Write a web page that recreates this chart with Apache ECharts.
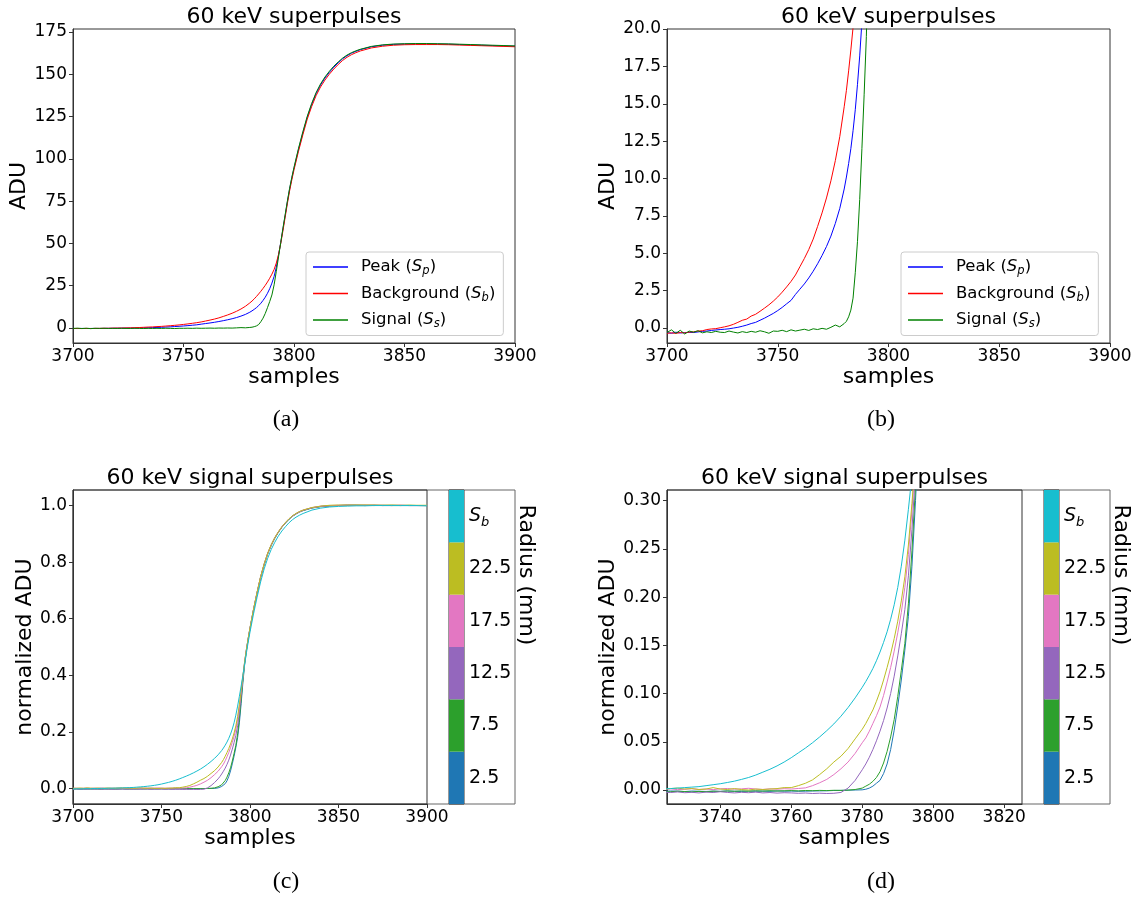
<!DOCTYPE html>
<html>
<head>
<meta charset="utf-8">
<title>60 keV superpulses</title>
<script src="https://cdn.jsdelivr.net/npm/echarts@6/dist/echarts.min.js"></script>
<style>
  html, body { margin: 0; padding: 0; background: #fff; }
  #main { width: 1139px; height: 900px; }
</style>
</head>
<body>
<div id="main"></div>
<script>
// sample index shared by all four panels
var samples = [
  3700, 3702, 3704, 3706, 3708, 3710, 3712, 3714, 3716, 3718,
  3720, 3722, 3724, 3726, 3728, 3730, 3732, 3734, 3736, 3738,
  3740, 3742, 3744, 3746, 3748, 3750, 3752, 3754, 3756, 3758,
  3760, 3762, 3764, 3766, 3768, 3770, 3772, 3774, 3776, 3778,
  3780, 3781, 3782, 3783, 3784, 3785, 3786, 3787, 3788, 3789,
  3790, 3791, 3792, 3793, 3794, 3795, 3796, 3797, 3798, 3799,
  3800, 3802, 3804, 3806, 3808, 3810, 3812, 3814, 3816, 3818,
  3820, 3822, 3824, 3826, 3828, 3830, 3835, 3840, 3845, 3850,
  3855, 3860, 3865, 3870, 3875, 3880, 3885, 3890, 3895, 3900
];

// (a) / (b) superpulses, ADU
var peakADU = [
  -0.30, -0.35, -0.28, -0.33, -0.30, -0.29, -0.30, -0.26, -0.22, -0.20,
  -0.16, -0.13, -0.10, -0.08, -0.05, 0.00, 0.05, 0.12, 0.20, 0.30,
  0.38, 0.52, 0.66, 0.82, 0.98, 1.17, 1.38, 1.62, 1.85, 2.25,
  2.60, 2.95, 3.35, 3.80, 4.30, 4.85, 5.45, 6.15, 7.00, 8.00,
  9.30, 10.1, 11.0, 12.0, 13.2, 14.6, 16.3, 18.2, 20.5, 23.2,
  26.5, 30.5, 36.0, 43.0, 50.5, 58.5, 66.5, 74.5, 82.0, 88.5,
  94.5, 105.3, 115.3, 124.6, 132.2, 138.6, 143.7, 147.8, 151.2, 154.2,
  156.8, 159.2, 161.0, 162.5, 163.6, 164.6, 166.3, 167.2, 167.7, 167.9,
  168.0, 168.0, 167.9, 167.8, 167.6, 167.4, 167.2, 167.0, 166.8, 166.6
];
var backgroundADU = [
  -0.35, -0.32, -0.36, -0.30, -0.33, -0.27, -0.25, -0.20, -0.18, -0.10,
  -0.06, -0.04, 0.02, 0.08, 0.15, 0.25, 0.38, 0.52, 0.60, 0.80,
  0.92, 1.12, 1.33, 1.55, 1.80, 2.08, 2.40, 2.75, 3.12, 3.55,
  4.10, 4.65, 5.25, 5.95, 6.80, 7.70, 8.70, 9.85, 11.2, 12.8,
  14.8, 15.9, 17.2, 18.6, 20.1, 21.7, 23.4, 25.2, 27.2, 29.4,
  31.8, 34.6, 38.4, 43.5, 50.0, 57.5, 65.5, 73.5, 81.0, 87.5,
  93.5, 104.3, 114.2, 123.5, 131.0, 137.4, 142.5, 146.6, 150.1, 153.1,
  155.8, 158.2, 160.1, 161.6, 162.8, 163.8, 165.6, 166.6, 167.2, 167.5,
  167.6, 167.6, 167.6, 167.5, 167.3, 167.1, 166.9, 166.7, 166.5, 166.3
];
var signalADU = [
  -0.30, -0.12, -0.35, -0.15, -0.40, -0.20, -0.28, -0.18, -0.32, -0.25,
  -0.30, -0.22, -0.28, -0.30, -0.20, -0.27, -0.33, -0.24, -0.30, -0.22,
  -0.28, -0.18, -0.25, -0.35, -0.20, -0.22, -0.15, -0.24, -0.12, -0.20,
  -0.14, -0.08, -0.16, -0.05, -0.10, -0.02, -0.08, 0.05, 0.20, 0.08,
  0.30, 0.45, 0.75, 1.2, 2.0, 3.7, 5.8, 8.6, 12.0, 15.6,
  19.5, 25.5, 33.5, 42.0, 50.5, 59.0, 67.0, 75.0, 82.5, 89.0,
  95.0, 106.0, 116.0, 125.2, 132.8, 139.2, 144.3, 148.4, 151.8, 154.8,
  157.3, 159.6, 161.4, 162.8, 163.9, 164.8, 166.5, 167.4, 167.9, 168.1,
  168.2, 168.2, 168.1, 168.0, 167.8, 167.6, 167.4, 167.2, 167.0, 166.8
];

// (c) / (d) signal superpulses by radius, normalized ADU
var radius2p5 = [
  -0.0005, -0.001, -0.0008, -0.0012, -0.001, -0.0006, -0.0012, -0.001, -0.0014, -0.0008,
  -0.001, -0.0012, -0.0015, -0.001, -0.0012, -0.0016, -0.0011, -0.0013, -0.0015, -0.0012,
  -0.0014, -0.001, -0.0013, -0.0015, -0.0011, -0.0013, -0.0012, -0.0014, -0.001, -0.0012,
  -0.0011, -0.0013, -0.0012, -0.001, -0.0009, -0.0008, -0.0005, -0.0004, -0.0002, 0.0,
  0.0002, 0.0008, 0.002, 0.004, 0.007, 0.010, 0.017, 0.027, 0.042, 0.062,
  0.087, 0.114, 0.145, 0.180, 0.232, 0.300, 0.375, 0.440, 0.487, 0.527,
  0.564, 0.630, 0.690, 0.745, 0.790, 0.829, 0.859, 0.884, 0.905, 0.923,
  0.938, 0.951, 0.962, 0.970, 0.977, 0.982, 0.991, 0.996, 0.999, 1.000,
  1.001, 1.001, 1.000, 1.001, 1.000, 1.001, 1.000, 1.000, 1.000, 1.000
];
var radius7p5 = [
  -0.002, -0.0015, -0.0025, -0.002, -0.0018, -0.0022, -0.0016, -0.002, -0.0024, -0.0018,
  -0.002, -0.0015, -0.0022, -0.0018, -0.0012, -0.0016, -0.002, -0.0014, -0.0018, -0.0012,
  -0.0015, -0.001, -0.0013, -0.0009, -0.0012, -0.0008, -0.0011, -0.0007, -0.001, -0.0008,
  -0.0006, -0.0009, -0.0005, -0.0007, -0.0004, -0.0006, -0.0003, -0.0004, -0.0001, 0.0005,
  0.002, 0.004, 0.006, 0.009, 0.013, 0.019, 0.028, 0.040, 0.055, 0.073,
  0.097, 0.124, 0.152, 0.193, 0.248, 0.315, 0.385, 0.445, 0.490, 0.529,
  0.566, 0.632, 0.692, 0.747, 0.792, 0.830, 0.860, 0.885, 0.906, 0.924,
  0.939, 0.952, 0.963, 0.971, 0.978, 0.983, 0.992, 0.997, 0.999, 1.000,
  1.001, 1.001, 1.001, 1.000, 1.001, 1.000, 1.000, 1.001, 1.000, 1.000
];
var radius12p5 = [
  -0.0025, -0.002, -0.003, -0.0022, -0.0028, -0.0018, -0.0025, -0.002, -0.0028, -0.0022,
  -0.0025, -0.003, -0.0022, -0.0026, -0.002, -0.0028, -0.0024, -0.003, -0.0022, -0.0026,
  -0.0018, -0.0025, -0.003, -0.0024, -0.0028, -0.0022, -0.003, -0.0026, -0.0032, -0.0028,
  -0.003, -0.0034, -0.0031, -0.0036, -0.0033, -0.0036, -0.0034, -0.0025, 0.002, 0.010,
  0.021, 0.027, 0.034, 0.042, 0.051, 0.061, 0.072, 0.085, 0.100, 0.118,
  0.139, 0.162, 0.187, 0.222, 0.270, 0.330, 0.392, 0.448, 0.492, 0.531,
  0.567, 0.633, 0.693, 0.748, 0.793, 0.831, 0.861, 0.886, 0.906, 0.924,
  0.939, 0.952, 0.963, 0.971, 0.978, 0.983, 0.992, 0.997, 0.999, 1.000,
  1.001, 1.001, 1.000, 1.001, 1.000, 1.000, 1.001, 1.000, 1.000, 1.000
];
var radius17p5 = [
  0.0005, 0.001, 0.0, 0.0008, 0.0012, 0.0004, 0.001, 0.0006, 0.0014, 0.0008,
  0.0002, 0.001, 0.0006, 0.0012, 0.0004, 0.0008, 0.0014, 0.0006, 0.001, 0.0004,
  0.0012, 0.0016, 0.0008, 0.0012, 0.0018, 0.001, 0.0006, 0.0012, 0.0008, 0.0014,
  0.001, 0.0016, 0.0022, 0.0045, 0.0075, 0.011, 0.016, 0.022, 0.029, 0.038,
  0.049, 0.054, 0.061, 0.069, 0.077, 0.086, 0.098, 0.112, 0.127, 0.144,
  0.163, 0.184, 0.210, 0.244, 0.290, 0.342, 0.396, 0.449, 0.492, 0.531,
  0.567, 0.633, 0.693, 0.748, 0.793, 0.831, 0.861, 0.886, 0.907, 0.925,
  0.940, 0.953, 0.963, 0.972, 0.978, 0.984, 0.993, 0.998, 1.000, 1.001,
  1.002, 1.001, 1.002, 1.001, 1.001, 1.000, 1.001, 1.000, 1.000, 1.000
];
var radius22p5 = [
  0.001, 0.0005, 0.0015, 0.0005, 0.002, 0.001, 0.0005, 0.0015, 0.0, 0.001,
  0.0015, 0.0005, 0.001, 0.0015, 0.002, 0.001, 0.0015, 0.0005, 0.001, 0.0025,
  0.001, 0.0005, 0.0015, 0.0005, 0.0, 0.001, 0.0005, 0.001, 0.0015, 0.0025,
  0.0025, 0.0045, 0.007, 0.0105, 0.016, 0.022, 0.029, 0.035, 0.043, 0.053,
  0.063, 0.069, 0.076, 0.083, 0.092, 0.102, 0.114, 0.127, 0.141, 0.157,
  0.175, 0.196, 0.221, 0.254, 0.297, 0.347, 0.398, 0.450, 0.493, 0.532,
  0.568, 0.634, 0.694, 0.749, 0.794, 0.832, 0.862, 0.887, 0.907, 0.925,
  0.940, 0.953, 0.964, 0.972, 0.979, 0.984, 0.993, 0.998, 1.001, 1.002,
  1.002, 1.002, 1.002, 1.002, 1.001, 1.002, 1.001, 1.001, 1.001, 1.001
];
var radiusSb = [
  -0.002, -0.001, -0.0015, -0.001, -0.0005, -0.001, 0.0, -0.0005, 0.0005, 0.0,
  0.001, 0.0008, 0.0012, 0.0015, 0.002, 0.0025, 0.003, 0.0035, 0.0045, 0.0055,
  0.0065, 0.0078, 0.0092, 0.011, 0.013, 0.0155, 0.0185, 0.0215, 0.025, 0.029,
  0.0335, 0.0385, 0.0435, 0.049, 0.055, 0.0615, 0.0685, 0.0765, 0.0855, 0.0955,
  0.1065, 0.1125, 0.119, 0.126, 0.134, 0.143, 0.153, 0.164, 0.177, 0.192,
  0.210, 0.232, 0.259, 0.291, 0.326, 0.362, 0.400, 0.440, 0.480, 0.518,
  0.553, 0.617, 0.676, 0.730, 0.776, 0.814, 0.845, 0.870, 0.892, 0.910,
  0.925, 0.939, 0.950, 0.959, 0.966, 0.972, 0.984, 0.991, 0.995, 0.997,
  0.998, 0.999, 0.999, 1.000, 1.000, 1.000, 1.000, 1.000, 1.000, 0.999
];

// colorbar categories, bottom to top
var radiusLabels = ['2.5', '7.5', '12.5', '17.5', '22.5', 'Sb'];
var radiusColors = ['#1f77b4', '#2ca02c', '#9467bd', '#e377c2', '#bcbd22', '#17becf'];
var radiusSeries = [radius2p5, radius7p5, radius12p5, radius17p5, radius22p5, radiusSb];

// tick values
var xTicksABC = [3700, 3750, 3800, 3850, 3900];
var xTicksD = [3740, 3760, 3780, 3800, 3820];
var yTicksA = [0, 25, 50, 75, 100, 125, 150, 175];
var yTicksB = [0, 2.5, 5, 7.5, 10, 12.5, 15, 17.5, 20];
var yTicksC = [0, 0.2, 0.4, 0.6, 0.8, 1.0];
var yTicksD = [0, 0.05, 0.10, 0.15, 0.20, 0.25, 0.30];

var pulseNames = ['Peak', 'Background', 'Signal'];
var pulseSubs = { Peak: 'p', Background: 'b', Signal: 's' };
var pulseColors = ['#0000ff', '#ff0000', '#008000'];
var pulseData = [peakADU, backgroundADU, signalADU];

var FONT = 'DejaVu Sans';
var SPINE = '#333';

function pairs(ys) {
  return samples.map(function (s, i) { return [s, ys[i]]; });
}

function valueXAxis(grid, min, max, ticks) {
  return {
    gridIndex: grid, type: 'value', min: min, max: max,
    splitLine: { show: false },
    axisLine: { show: true, onZero: false, lineStyle: { color: SPINE, width: 1 } },
    axisTick: { show: true, inside: false, customValues: ticks, length: 4, lineStyle: { color: SPINE, width: 1 } },
    axisLabel: {
      customValues: ticks, fontSize: 17, fontFamily: FONT, color: '#000', margin: 5,
      formatter: function (v) { return String(v); }
    },
    name: 'samples', nameLocation: 'middle', nameGap: 21,
    nameTextStyle: { fontSize: 22, fontFamily: FONT, color: '#000' }
  };
}

function valueYAxis(grid, min, max, ticks, digits, name, gap) {
  return {
    gridIndex: grid, type: 'value', min: min, max: max,
    splitLine: { show: false },
    axisLine: { show: true, onZero: false, lineStyle: { color: SPINE, width: 1 } },
    axisTick: { show: true, inside: false, customValues: ticks, length: 4, lineStyle: { color: SPINE, width: 1 } },
    axisLabel: {
      customValues: ticks, fontSize: 17, fontFamily: FONT, color: '#000', margin: 6,
      formatter: function (v) { return digits == null ? String(v) : v.toFixed(digits); }
    },
    name: name, nameLocation: 'middle', nameGap: gap,
    nameTextStyle: { fontSize: 22, fontFamily: FONT, color: '#000' }
  };
}

function colorbarYAxis(grid) {
  return {
    gridIndex: grid, type: 'category', data: radiusLabels, position: 'right',
    axisLine: { show: false },
    axisTick: { show: true, alignWithLabel: true, length: 4, lineStyle: { color: SPINE } },
    axisLabel: {
      fontSize: 19, fontFamily: FONT, color: '#000', margin: 5,
      formatter: function (v) { return v === 'Sb' ? '{i|S}{s|b}' : v; },
      rich: {
        i: { fontSize: 19, fontFamily: FONT, fontStyle: 'italic', color: '#000' },
        s: { fontSize: 13, fontFamily: FONT, fontStyle: 'italic', color: '#000', padding: [12, 0, 0, 0] }
      }
    }
  };
}

function legendFor(left) {
  return {
    data: pulseNames, orient: 'vertical', left: left, top: 252,
    padding: [5, 8, 5, 7], itemGap: 6, itemWidth: 35, itemHeight: 1.5, icon: 'rect',
    backgroundColor: '#fff', borderColor: '#cccccc', borderWidth: 1, borderRadius: 3,
    selectedMode: false,
    textStyle: {
      fontSize: 16.5, fontFamily: FONT, color: '#000', lineHeight: 20, padding: [0, 0, 0, 8],
      rich: {
        i: { fontSize: 16.5, fontFamily: FONT, fontStyle: 'italic', color: '#000' },
        s: { fontSize: 11.5, fontFamily: FONT, fontStyle: 'italic', color: '#000', padding: [9, 0, 0, 0] }
      }
    },
    formatter: function (name) { return name + ' ({i|S}{s|' + pulseSubs[name] + '})'; }
  };
}

var series = [];
[0, 1].forEach(function (g) {
  pulseNames.forEach(function (name, k) {
    series.push({
      name: name, type: 'line', xAxisIndex: g, yAxisIndex: g,
      data: pairs(pulseData[k]), symbol: 'none', clip: true,
      lineStyle: { color: pulseColors[k], width: 1 }, itemStyle: { color: pulseColors[k] }
    });
  });
});
[2, 3].forEach(function (g) {
  radiusSeries.forEach(function (ys, k) {
    series.push({
      name: radiusLabels[k], type: 'line', xAxisIndex: g, yAxisIndex: g,
      data: pairs(ys), symbol: 'none', clip: true,
      lineStyle: { color: radiusColors[k], width: 1 }, itemStyle: { color: radiusColors[k] }
    });
  });
});
[4, 5].forEach(function (g) {
  series.push({
    type: 'bar', xAxisIndex: g, yAxisIndex: g, barWidth: '100%', silent: true,
    data: radiusColors.map(function (c) { return { value: 1, itemStyle: { color: c } }; })
  });
});

function label(text, x, y, size, family, rot) {
  return {
    type: 'text', x: x, y: y, rotation: rot || 0, silent: true,
    style: {
      text: text, fontSize: size, fontFamily: family, fill: '#000',
      align: 'center', verticalAlign: 'middle', textAlign: 'center', textVerticalAlign: 'middle'
    }
  };
}

var gridBox = { show: true, borderColor: SPINE, borderWidth: 1, backgroundColor: 'transparent' };

var option = {
  animation: false,
  backgroundColor: '#fff',
  grid: [
    Object.assign({ left: 73, top: 29, width: 442, height: 314 }, gridBox),
    Object.assign({ left: 667, top: 29, width: 443, height: 314 }, gridBox),
    Object.assign({ left: 73, top: 490, width: 354, height: 314 }, gridBox),
    Object.assign({ left: 667, top: 490, width: 355, height: 314 }, gridBox),
    Object.assign({ left: 449, top: 490, width: 15, height: 314 }, gridBox),
    Object.assign({ left: 1044, top: 490, width: 15, height: 314 }, gridBox)
  ],
  xAxis: [
    valueXAxis(0, 3700, 3900, xTicksABC),
    valueXAxis(1, 3700, 3900, xTicksABC),
    valueXAxis(2, 3700, 3900, xTicksABC),
    valueXAxis(3, 3725, 3825, xTicksD),
    { gridIndex: 4, type: 'value', min: 0, max: 1, show: false },
    { gridIndex: 5, type: 'value', min: 0, max: 1, show: false }
  ],
  yAxis: [
    valueYAxis(0, -8.9, 176.8, yTicksA, null, 'ADU', 41),
    valueYAxis(1, -1.0, 20, yTicksB, 1, 'ADU', 47),
    valueYAxis(2, -0.055, 1.055, yTicksC, 1, 'normalized ADU', 32),
    valueYAxis(3, -0.0145, 0.311, yTicksD, 2, 'normalized ADU', 46),
    colorbarYAxis(4),
    colorbarYAxis(5)
  ],
  legend: [legendFor(306), legendFor(901)],
  series: series,
  graphic: [
    // outer frames around the signal panels and their colorbars
    { type: 'rect', shape: { x: 73, y: 490, width: 442, height: 314 }, silent: true, z: -1,
      style: { fill: 'none', stroke: '#666', lineWidth: 1 } },
    { type: 'rect', shape: { x: 667, y: 490, width: 443, height: 314 }, silent: true, z: -1,
      style: { fill: 'none', stroke: '#666', lineWidth: 1 } },
    label('60 keV superpulses', 294, 17, 22, FONT),
    label('60 keV superpulses', 888.5, 17, 22, FONT),
    label('60 keV signal superpulses', 250, 478, 22, FONT),
    label('60 keV signal superpulses', 844.5, 478, 22, FONT),
    label('Radius (mm)', 526, 575, 22, FONT, -Math.PI / 2),
    label('Radius (mm)', 1121, 575, 22, FONT, -Math.PI / 2),
    label('(a)', 286, 420, 24, 'Liberation Serif'),
    label('(b)', 881, 420, 24, 'Liberation Serif'),
    label('(c)', 286, 882, 24, 'Liberation Serif'),
    label('(d)', 881, 882, 24, 'Liberation Serif')
  ]
};

var chart = echarts.init(document.getElementById('main'));
chart.setOption(option);
window.addEventListener('resize', function () { chart.resize(); });
</script>
</body>
</html>
